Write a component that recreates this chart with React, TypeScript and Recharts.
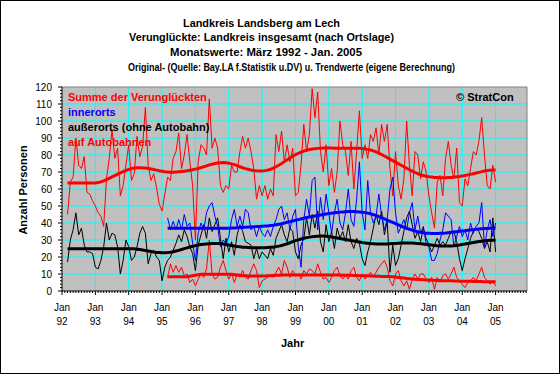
import React from 'react';
import { LineChart, Line, XAxis, YAxis, CartesianGrid } from 'recharts';

// month index: 0 = Jan 1992
const FIRST_MONTH = 2; // März 1992
const SPLIT_MONTH = 38; // März 1995 (Beginn der Aufteilung)

const yearLabels = ['92', '93', '94', '95', '96', '97', '98', '99', '00', '01', '02', '03', '04', '05'];

// Summe der Verunglückten, monthly from März 1992 to Jan. 2005
const summe = [
  45, 64, 67, 90, 74, 72, 79, 58, 57, 53,
  50, 46, 44, 38, 66, 78, 95, 78, 84, 56, 62, 74,
  86, 65, 69, 91, 79, 85, 108, 74, 65, 69, 61, 51,
  47, 57, 67, 65, 78, 82, 93, 72, 80, 92, 76, 62,
  30, 76, 86, 84, 80, 113, 84, 90, 84, 62, 58, 62,
  60, 74, 70, 70, 82, 91, 84, 90, 82, 72, 54, 62,
  56, 62, 54, 60, 56, 92, 82, 94, 76, 86, 76, 84,
  56, 58, 74, 98, 82, 92, 119, 102, 117, 82, 70, 86,
  62, 72, 58, 70, 100, 86, 82, 68, 88, 60, 82, 106,
  78, 86, 78, 92, 88, 96, 80, 98, 88, 98, 72, 56,
  82, 62, 54, 66, 100, 74, 56, 82, 80, 66, 76, 70,
  56, 46, 37, 64, 68, 56, 78, 88, 74, 66, 84, 52,
  50, 66, 62, 72, 82, 80, 88, 102, 80, 62, 60, 74,
  64,
];

const summeTrend = [
  63.5, 63.5, 63.5, 63.5, 63.5, 63.5, 63.5, 63.5, 63.5, 63.5,
  63.5, 63.8, 64.2, 64.8, 65.5, 66.3, 67.1, 67.9, 68.7, 69.5, 70.2, 70.9,
  71.5, 72, 72.3, 72.5, 72.5, 72.4, 72.3, 72.1, 71.8, 71.5, 71.1, 70.7,
  70.4, 70.1, 70, 69.9, 69.9, 70, 70.1, 70.3, 70.5, 70.7, 71, 71.3,
  71.7, 72.1, 72.6, 73.1, 73.6, 74.1, 74.6, 75, 75.3, 75.5, 75.6, 75.5,
  75.2, 74.8, 74.3, 73.7, 73.1, 72.5, 72, 71.6, 71.2, 70.9, 70.7, 70.6,
  70.6, 70.8, 71.1, 71.6, 72.3, 73.1, 74, 75, 76.1, 77.2, 78.3, 79.3,
  80.2, 81, 81.7, 82.3, 82.8, 83.2, 83.5, 83.7, 83.9, 84, 84.1, 84.1,
  84.1, 84.1, 84, 84, 84, 84, 84, 84, 84, 84, 84, 83.9,
  83.8, 83.6, 83.3, 82.9, 82.4, 81.8, 81.1, 80.3, 79.4, 78.5, 77.6, 76.7,
  75.8, 74.9, 74, 73.1, 72.2, 71.3, 70.5, 69.7, 69, 68.4, 67.9, 67.5,
  67.2, 67, 66.8, 66.7, 66.6, 66.6, 66.6, 66.7, 66.8, 67, 67.2, 67.4,
  67.7, 68, 68.3, 68.6, 69, 69.4, 69.8, 70.2, 70.6, 70.9, 71.1, 71.2,
  71.2,
];

// außerorts (ohne Autobahn), März 1992 to Jan. 2005
const aussen = [
  17, 30, 36, 46, 33, 37, 27, 23, 23, 22,
  14, 13, 18, 26, 40, 30, 34, 33, 26, 10, 18, 30,
  26, 18, 20, 26, 34, 38, 34, 16, 22, 24, 20, 18,
  6, 14, 18, 20, 24, 28, 33, 29, 36, 32, 26, 22,
  12, 27, 33, 39, 31, 43, 35, 39, 43, 31, 19, 31,
  23, 29, 21, 33, 39, 35, 29, 28, 27, 19, 25, 19,
  23, 21, 19, 25, 21, 31, 35, 39, 33, 29, 37, 35,
  23, 19, 27, 31, 43, 33, 45, 37, 47, 29, 23, 39,
  29, 35, 25, 37, 31, 35, 29, 39, 29, 25, 31, 28,
  19, 15, 23, 29, 37, 45, 39, 47, 33, 41, 11, 27,
  15, 19, 27, 35, 43, 47, 39, 31, 35, 29, 37, 31,
  27, 23, 27, 31, 27, 29, 27, 31, 35, 35, 29, 19,
  12, 19, 25, 31, 35, 37, 35, 31, 25, 29, 23, 43,
  23,
];

const aussenTrend = [
  24.8, 24.8, 24.8, 24.8, 24.8, 24.8, 24.8, 24.8, 24.8, 24.8,
  24.8, 24.8, 24.8, 24.8, 24.8, 24.8, 24.8, 24.8, 24.8, 24.8, 24.8, 24.8,
  24.8, 24.8, 24.8, 24.6, 24.4, 24.1, 23.8, 23.5, 23.2, 22.9, 22.7, 22.6,
  22.5, 22.5, 22.6, 22.8, 23.1, 23.5, 23.9, 24.4, 24.9, 25.4, 25.9, 26.3,
  26.7, 27, 27.3, 27.5, 27.7, 27.8, 27.9, 28, 28, 27.9, 27.7, 27.4,
  27.1, 26.8, 26.5, 26.2, 26, 25.8, 25.7, 25.6, 25.5, 25.5, 25.5, 25.5,
  25.5, 25.5, 25.6, 25.7, 25.8, 26.1, 26.4, 26.8, 27.3, 27.8, 28.4, 29,
  29.6, 30.1, 30.6, 31, 31.4, 31.7, 31.9, 32.1, 32.2, 32.3, 32.3, 32.2,
  32, 31.8, 31.5, 31.2, 30.9, 30.6, 30.3, 30, 29.7, 29.4, 29.1, 28.8,
  28.5, 28.3, 28.1, 27.9, 27.8, 27.7, 27.6, 27.6, 27.6, 27.7, 27.8, 27.9,
  28, 28.1, 28.2, 28.3, 28.3, 28.3, 28.2, 28.1, 28, 27.8, 27.6, 27.4,
  27.2, 27, 26.8, 26.6, 26.5, 26.4, 26.4, 26.4, 26.5, 26.6, 26.8, 27,
  27.3, 27.6, 27.9, 28.2, 28.5, 28.8, 29.1, 29.3, 29.5, 29.7, 29.8, 29.9,
  30,
];

// innerorts, März 1995 to Jan. 2005
const inner = [
  43, 36, 41, 36, 42, 36, 45, 38, 40, 28,
  18, 34, 40, 36, 46, 50, 52, 44, 38, 26, 30, 28,
  32, 42, 48, 38, 44, 38, 48, 46, 36, 38, 32, 38,
  34, 32, 36, 32, 38, 42, 48, 50, 42, 46, 36, 44,
  48, 26, 14, 42, 54, 44, 65, 67, 36, 55, 42, 57,
  46, 34, 46, 54, 40, 36, 46, 60, 42, 38, 54, 76,
  46, 36, 65, 46, 40, 44, 57, 44, 36, 42, 60, 67,
  46, 34, 38, 42, 36, 46, 52, 36, 44, 34, 38, 28,
  26, 18, 18, 22, 30, 36, 46, 44, 42, 26, 32, 38,
  32, 36, 30, 40, 34, 38, 40, 52, 26, 36, 42, 32,
  40,
];

const innerTrend = [
  36.9, 36.9, 36.9, 36.9, 36.9, 36.9, 36.9, 36.9, 36.9, 36.9,
  36.9, 36.9, 36.9, 36.9, 36.9, 36.9, 36.9, 36.9, 36.9, 36.9, 36.9, 36.9,
  36.9, 37, 37.1, 37.2, 37.3, 37.4, 37.5, 37.6, 37.7, 37.8, 37.9, 38,
  38.1, 38.2, 38.3, 38.5, 38.7, 39, 39.3, 39.6, 40, 40.4, 40.8, 41.2,
  41.6, 42, 42.4, 42.8, 43.2, 43.5, 43.8, 44.1, 44.4, 44.7, 45, 45.3,
  45.6, 45.8, 46, 46.2, 46.4, 46.5, 46.6, 46.7, 46.7, 46.7, 46.6, 46.5,
  46.3, 46.1, 45.8, 45.4, 44.9, 44.4, 43.8, 43.1, 42.4, 41.7, 41, 40.3,
  39.6, 38.9, 38.2, 37.5, 36.9, 36.3, 35.8, 35.3, 34.9, 34.5, 34.2, 34,
  33.9, 33.8, 33.8, 33.8, 33.9, 34, 34.1, 34.3, 34.5, 34.7, 34.9, 35.1,
  35.3, 35.5, 35.7, 35.9, 36.1, 36.3, 36.5, 36.6, 36.7, 36.8, 36.9, 36.9,
  37,
];

// auf Autobahnen, März 1995 to Jan. 2005
const autobahn = [
  8, 16, 11, 15, 11, 14, 9, 10, 5, 7,
  3, 7, 10, 8, 13, 30, 10, 7, 8, 14, 18, 12,
  7, 10, 5, 10, 8, 12, 8, 7, 12, 16, 12, 2,
  6, 7, 8, 10, 8, 11, 14, 10, 18, 14, 8, 12,
  9, 10, 7, 12, 10, 13, 12, 10, 16, 11, 7, 8,
  5, 8, 12, 14, 9, 7, 9, 7, 12, 14, 8, 6,
  10, 7, 9, 11, 8, 11, 14, 16, 18, 14, 6, 3,
  10, 12, 6, 3, 6, 1, 7, 10, 7, 10, 10, 7,
  5, 8, 1, 8, 5, 9, 10, 7, 10, 14, 8, 6,
  4, 2, 5, 6, 8, 6, 10, 14, 8, 6, 4, 6,
  3,
];

const autobahnTrend = [
  8.4, 8.4, 8.4, 8.4, 8.4, 8.4, 8.4, 8.4, 8.7, 9,
  9.3, 9.6, 9.8, 9.9, 9.9, 9.9, 9.9, 9.9, 9.9, 9.9, 9.9, 9.9,
  9.9, 9.8, 9.6, 9.4, 9.2, 9, 8.9, 8.8, 8.8, 8.8, 8.8, 8.8,
  8.8, 8.8, 8.9, 9, 9.1, 9.2, 9.3, 9.4, 9.4, 9.4, 9.4, 9.4,
  9.4, 9.4, 9.4, 9.4, 9.4, 9.4, 9.4, 9.4, 9.4, 9.4, 9.4, 9.4,
  9.4, 9.4, 9.4, 9.4, 9.4, 9.3, 9.3, 9.2, 9.2, 9.1, 9.1, 9,
  9, 8.9, 8.9, 8.8, 8.8, 8.7, 8.7, 8.6, 8.6, 8.5, 8.5, 8.4,
  8.2, 8, 7.8, 7.6, 7.4, 7.2, 7, 6.9, 6.8, 6.7, 6.6, 6.5,
  6.4, 6.3, 6.3, 6.2, 6.2, 6.1, 6.1, 6, 6, 5.9, 5.9, 5.8,
  5.8, 5.7, 5.7, 5.7, 5.6, 5.6, 5.6, 5.6, 5.5, 5.5, 5.5, 5.5,
  5.5,
];

const data = summe.map((v, k) => {
  const m = FIRST_MONTH + k;
  const j = m - SPLIT_MONTH;
  return {
    m,
    summe: v,
    summeTrend: summeTrend[k],
    aussen: aussen[k],
    aussenTrend: aussenTrend[k],
    inner: j >= 0 ? inner[j] : null,
    innerTrend: j >= 0 ? innerTrend[j] : null,
    autobahn: j >= 0 ? autobahn[j] : null,
    autobahnTrend: j >= 0 ? autobahnTrend[j] : null,
  };
});

const X_MAX = 167.3;
const monthTicks = Array.from({ length: 168 }, (_, i) => i);
const yearTicks = yearLabels.map((_, i) => i * 12);
const yTicks = Array.from({ length: 61 }, (_, i) => i * 2);
const yGrid = [10, 20, 30, 40, 50, 60, 70, 80, 90, 100, 110];

const FONT = "'Liberation Sans', Arial, Helvetica, sans-serif";

const XTick = (props: any) => {
  const { x, y, payload } = props;
  const m = Number(payload.value);
  const major = m % 12 === 0;
  const yr = m / 12;
  return (
    <g>
      <line x1={x} x2={x} y1={y} y2={y + (major ? 4 : 2)} stroke="#000" strokeWidth={1} />
      {major && yr < yearLabels.length ? (
        <g>
          <text x={x} y={y + 19.7} textAnchor="middle" fontSize={10} fontFamily={FONT} fill="#000">Jan</text>
          <text x={x} y={y + 34} textAnchor="middle" fontSize={10} fontFamily={FONT} fill="#000">{yearLabels[yr]}</text>
        </g>
      ) : null}
    </g>
  );
};

const YTick = (props: any) => {
  const { x, y, payload } = props;
  const v = Number(payload.value);
  const major = v % 10 === 0;
  return (
    <g>
      <line x1={x - (major ? 4 : 2)} x2={x} y1={y} y2={y} stroke="#000" strokeWidth={1} />
      {major ? (
        <text x={x - 10} y={y + 3.6} textAnchor="end" fontSize={10} fontFamily={FONT} fill="#000">{v}</text>
      ) : null}
    </g>
  );
};

export default function App() {
  return (
    <div style={{ position: 'absolute', left: 0, top: 0, width: 560, height: 374, background: '#fff' }}>
      <LineChart width={560} height={374} data={data} margin={{ top: 87, right: 33, bottom: 43, left: 22 }}>
        <CartesianGrid
          stroke="#00FFFF"
          strokeWidth={1}
          fill="#C0C0C0"
          fillOpacity={1}
          verticalValues={yearTicks.slice(1)}
          horizontalValues={yGrid}
        />
        <CartesianGrid stroke="#808080" strokeWidth={1} verticalValues={[X_MAX]} horizontalValues={[120]} />
        <XAxis
          dataKey="m"
          type="number"
          domain={[0, X_MAX]}
          ticks={monthTicks}
          interval={0}
          tick={XTick}
          tickLine={false}
          tickSize={0}
          tickMargin={0}
          axisLine={{ stroke: '#000', strokeWidth: 1 }}
          height={40}
          allowDataOverflow
        />
        <YAxis
          type="number"
          domain={[0, 120]}
          ticks={yTicks}
          interval={0}
          tick={YTick}
          tickLine={false}
          tickSize={0}
          tickMargin={0}
          axisLine={{ stroke: '#000', strokeWidth: 1 }}
          width={40}
          allowDataOverflow
        />
        <Line dataKey="summe" stroke="#FF0000" strokeWidth={1} dot={false} activeDot={false} isAnimationActive={false} type="linear" />
        <Line dataKey="aussen" stroke="#000000" strokeWidth={1} dot={false} activeDot={false} isAnimationActive={false} type="linear" />
        <Line dataKey="inner" stroke="#0000FF" strokeWidth={1} dot={false} activeDot={false} isAnimationActive={false} type="linear" />
        <Line dataKey="autobahn" stroke="#FF0000" strokeWidth={1} dot={false} activeDot={false} isAnimationActive={false} type="linear" />
        <Line dataKey="summeTrend" stroke="#FF0000" strokeWidth={3} dot={false} activeDot={false} isAnimationActive={false} type="linear" />
        <Line dataKey="aussenTrend" stroke="#000000" strokeWidth={3} dot={false} activeDot={false} isAnimationActive={false} type="linear" />
        <Line dataKey="innerTrend" stroke="#0000FF" strokeWidth={3} dot={false} activeDot={false} isAnimationActive={false} type="linear" />
        <Line dataKey="autobahnTrend" stroke="#FF0000" strokeWidth={3} dot={false} activeDot={false} isAnimationActive={false} type="linear" />
      </LineChart>
      <svg width={560} height={374} style={{ position: 'absolute', left: 0, top: 0, pointerEvents: 'none' }}>
        <rect x={0.5} y={0.5} width={559} height={373} fill="none" stroke="#000" strokeWidth={1} />
        <g fontFamily={FONT} fontWeight="bold" fontSize={11} fill="#000" style={{ whiteSpace: 'pre' }}>
          <text x={183} y={26.7} textLength={157} lengthAdjust="spacingAndGlyphs">Landkreis Landsberg am Lech</text>
          <text x={129} y={40.7} textLength={265} lengthAdjust="spacingAndGlyphs">Verunglückte: Landkreis insgesamt (nach Ortslage)</text>
          <text x={170} y={56} textLength={192} lengthAdjust="spacingAndGlyphs">Monatswerte:  März 1992 - Jan. 2005</text>
          <text x={128} y={70.7} textLength={327} lengthAdjust="spacingAndGlyphs">Original- (Quelle: Bay.LA f.Statistik u.DV) u. Trendwerte (eigene Berechnung)</text>
          <text x={68} y={100.7} fill="#FF0000">Summe der Verunglückten</text>
          <text x={68} y={115.7} fill="#0000FF">innerorts</text>
          <text x={68} y={130.7} fill="#000">außerorts (ohne Autobahn)</text>
          <text x={68} y={145.7} fill="#FF0000">auf Autobahnen</text>
          <text x={456} y={100.7}>© StratCon</text>
          <text x={281} y={346.7}>Jahr</text>
          <text x={26.7} y={190} textAnchor="middle" transform="rotate(-90 26.7 190)">Anzahl Personen</text>
        </g>
      </svg>
    </div>
  );
}
